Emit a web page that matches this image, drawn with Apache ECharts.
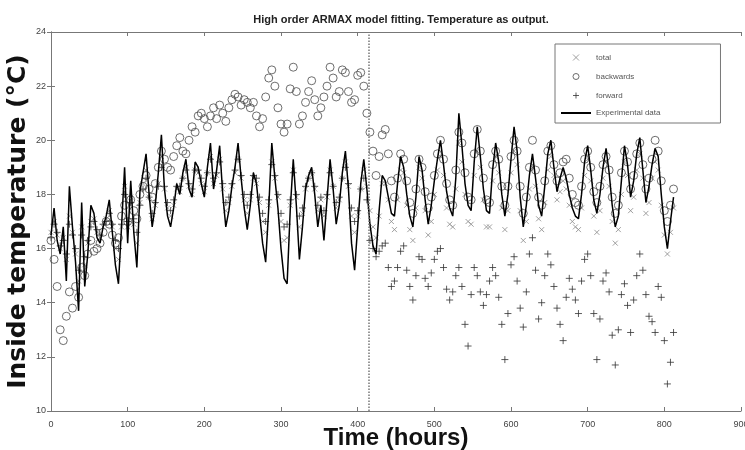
<!DOCTYPE html>
<html>
<head>
<meta charset="utf-8">
<title>High order ARMAX model fitting</title>
<script src="https://cdn.jsdelivr.net/npm/echarts@6/dist/echarts.min.js"></script>
<style>
  html, body { margin: 0; padding: 0; background: #fff; }
  #chart { width: 745px; height: 450px; }
</style>
</head>
<body>
<div id="chart"></div>
<script>
// time stamps (hours), one row per day
const hours = [
  0, 4, 8, 12, 16, 20,
  24, 28, 32, 36, 40, 44,
  48, 52, 56, 60, 64, 68,
  72, 76, 80, 84, 88, 92,
  96, 100, 104, 108, 112, 116,
  120, 124, 128, 132, 136, 140,
  144, 148, 152, 156, 160, 164,
  168, 172, 176, 180, 184, 188,
  192, 196, 200, 204, 208, 212,
  216, 220, 224, 228, 232, 236,
  240, 244, 248, 252, 256, 260,
  264, 268, 272, 276, 280, 284,
  288, 292, 296, 300, 304, 308,
  312, 316, 320, 324, 328, 332,
  336, 340, 344, 348, 352, 356,
  360, 364, 368, 372, 376, 380,
  384, 388, 392, 396, 400, 404,
  408, 412, 416, 420, 424, 428,
  432, 436, 440, 444, 448, 452,
  456, 460, 464, 468, 472, 476,
  480, 484, 488, 492, 496, 500,
  504, 508, 512, 516, 520, 524,
  528, 532, 536, 540, 544, 548,
  552, 556, 560, 564, 568, 572,
  576, 580, 584, 588, 592, 596,
  600, 604, 608, 612, 616, 620,
  624, 628, 632, 636, 640, 644,
  648, 652, 656, 660, 664, 668,
  672, 676, 680, 684, 688, 692,
  696, 700, 704, 708, 712, 716,
  720, 724, 728, 732, 736, 740,
  744, 748, 752, 756, 760, 764,
  768, 772, 776, 780, 784, 788,
  792, 796, 800, 804, 808, 812
]

const experimental = [
  16.5, 17.5, 16.3, 15.8, 16.8, 14.8,
  18.3, 16.8, 15.5, 13.7, 17.7, 14.6,
  15.8, 17.6, 17.3, 16.4, 16.2, 16.8,
  17.2, 17.8, 16.6, 15.4, 14.7, 16.8,
  19.0, 16.2, 18.5, 16.6, 15.3, 18.1,
  18.8, 19.5, 18.0, 16.8, 17.6, 18.8,
  20.2, 18.2, 17.2, 16.8, 17.5, 18.4,
  18.0, 18.8, 19.3, 18.2, 17.9, 19.2,
  19.0, 18.4, 17.9, 19.0, 19.9, 18.2,
  18.9, 19.8, 18.0, 16.8, 17.4, 18.3,
  19.0, 19.9, 18.6, 17.5, 16.7, 17.6,
  18.8, 18.4, 17.3, 16.2, 15.5, 17.5,
  19.9, 18.6, 17.5, 16.0, 14.9, 14.7,
  17.4, 19.3, 17.6, 15.6, 16.8, 18.2,
  18.7, 19.0, 18.0, 16.8, 17.6, 16.3,
  17.8, 19.3, 18.2, 16.9, 17.6, 18.8,
  19.6, 18.2, 16.2, 15.2, 16.8, 18.4,
  19.3, 18.2, 16.9, 16.1, 15.8, 17.4,
  18.7, 18.5, 17.9, 17.3, 17.2, 18.4,
  19.4, 19.0, 18.0, 17.2, 16.8, 17.9,
  19.4, 18.9, 17.8, 16.9, 17.6, 18.5,
  19.3, 20.0, 19.1, 18.1, 17.5, 17.2,
  18.6, 21.0, 19.8, 18.4, 17.6, 17.4,
  19.2, 20.5, 19.4, 18.2, 17.4, 17.3,
  18.9, 19.9, 19.2, 18.0, 17.2, 18.0,
  19.3, 20.5, 19.6, 17.9, 16.8, 17.6,
  18.7, 19.5, 18.6, 17.6, 17.2, 18.3,
  19.5, 20.0, 19.0, 18.1, 18.6, 19.0,
  18.6, 18.0, 17.5, 17.2, 17.1, 18.0,
  19.2, 19.8, 18.9, 17.8, 17.3, 18.0,
  19.0, 19.7, 18.8, 17.6, 16.8, 17.2,
  18.5, 19.8, 19.1, 17.9, 18.5, 19.5,
  20.1, 18.9, 17.7, 18.3, 19.1, 19.7,
  19.4, 18.0, 16.8, 16.0, 17.0, 17.9
]

const total = [
  16.6, 17.0, 16.5, 16.0, 16.4, 15.6,
  17.2, 16.6, 15.8, 14.8, 16.8, 15.4,
  16.2, 17.0, 17.1, 16.6, 16.4, 16.8,
  17.1, 17.4, 16.8, 16.0, 15.6, 16.8,
  18.3, 16.8, 17.9, 16.9, 16.2, 17.7,
  18.4, 18.9, 17.9, 17.1, 17.6, 18.4,
  19.4, 18.2, 17.5, 17.2, 17.6, 18.2,
  18.1, 18.6, 19.0, 18.3, 18.0, 18.9,
  18.8, 18.4, 18.1, 18.8, 19.4, 18.4,
  18.7, 19.3, 18.2, 17.4, 17.7, 18.3,
  18.8, 19.3, 18.6, 17.8, 17.3, 17.8,
  18.6, 18.4, 17.7, 17.0, 16.6, 17.6,
  19.2, 18.6, 17.9, 17.0, 16.3, 16.4,
  17.6, 18.9, 17.9, 16.8, 17.3, 18.2,
  18.6, 18.8, 18.2, 17.4, 17.8, 17.2,
  17.9, 18.9, 18.3, 17.5, 17.8, 18.6,
  19.2, 18.3, 17.2, 16.6, 17.2, 18.2,
  18.9, 18.3, 17.4, 16.8, 16.4, 17.2,
  18.4, 18.4, 17.8, 17.0, 16.7, 17.8,
  18.9, 18.8, 17.6, 16.7, 16.3, 17.5,
  19.0, 18.6, 17.4, 16.5, 17.0, 18.0,
  18.9, 19.4, 18.7, 17.5, 16.9, 16.8,
  18.2, 19.9, 19.2, 18.0, 17.0, 16.9,
  18.7, 19.6, 19.0, 17.8, 16.8, 16.8,
  18.5, 19.4, 18.8, 17.5, 16.7, 17.4,
  18.8, 19.6, 19.1, 17.4, 16.3, 17.0,
  18.2, 19.0, 18.3, 17.1, 16.7, 17.7,
  18.9, 19.4, 18.7, 17.8, 18.1, 18.5,
  18.2, 17.6, 17.0, 16.8, 16.7, 17.5,
  18.7, 19.3, 18.5, 17.2, 16.6, 17.4,
  18.6, 19.2, 18.3, 17.0, 16.2, 16.7,
  18.0, 19.2, 18.7, 17.4, 17.9, 18.9,
  19.5, 18.6, 17.3, 17.7, 18.6, 19.2,
  18.9, 17.6, 16.5, 15.8, 16.6, 17.5
]

const backwards = [
  16.3, 15.6, 14.6, 13.0, 12.6, 13.5,
  14.4, 13.8, 14.6, 14.2, 15.3, 15.0,
  15.8, 16.3, 15.9, 16.0, 16.2, 16.6,
  17.0, 16.9, 16.5, 16.2, 16.4, 17.2,
  17.6, 17.0, 17.8, 17.4, 17.1, 18.0,
  18.3, 18.7, 18.2, 17.9, 18.4, 19.0,
  19.6, 19.3, 19.0, 18.9, 19.4, 19.8,
  20.1, 19.6, 19.5, 20.0, 20.5, 20.3,
  20.9, 21.0, 20.8, 20.5, 20.9, 21.2,
  20.8, 21.3, 21.0, 20.7, 21.2, 21.5,
  21.7, 21.6, 21.3, 21.5, 21.4, 21.2,
  21.4, 20.9, 20.5, 20.8, 21.6, 22.3,
  22.6, 22.0, 21.2, 20.6, 20.3, 20.6,
  21.9, 22.7, 21.8, 20.6, 20.9, 21.4,
  21.8, 22.2, 21.5, 20.9, 21.2, 21.6,
  22.0, 22.7, 22.3, 21.6, 21.8, 22.6,
  22.5, 21.8, 21.4, 21.5, 22.4, 22.5,
  22.0, 21.0, 20.3, 19.6, 18.7, 19.4,
  20.2, 20.4, 19.5, 18.5, 17.9, 18.6,
  19.5, 19.3, 18.5, 17.7, 17.3, 18.2,
  19.3, 19.0, 18.1, 17.5, 17.9, 18.7,
  19.5, 20.0, 19.3, 18.4, 17.8, 17.6,
  18.9, 20.3, 19.9, 18.8, 17.9, 17.8,
  19.5, 20.4, 19.6, 18.6, 17.8, 17.7,
  19.1, 19.6, 19.3, 18.3, 17.6, 18.3,
  19.4, 20.0, 19.6, 18.3, 17.3, 17.9,
  19.0, 20.0, 18.9, 17.9, 17.6, 18.5,
  19.6, 19.8, 19.1, 18.5, 18.8, 19.2,
  19.3, 18.6, 18.0, 17.7, 17.6, 18.3,
  19.3, 19.6, 19.0, 18.1, 17.7, 18.3,
  19.1, 19.4, 18.9, 17.9, 17.3, 17.6,
  18.8, 19.6, 19.2, 18.2, 18.7, 19.5,
  19.9, 19.1, 18.2, 18.6, 19.3, 20.0,
  19.6, 18.5, 17.4, 17.0, 17.6, 18.2
]

const forward = [
  16.4, 16.9, 16.6, 16.1, 16.3, 15.8,
  16.9, 16.5, 16.0, 15.2, 16.5, 15.7,
  16.3, 16.8, 17.0, 16.7, 16.5, 16.9,
  17.0, 17.3, 16.9, 16.3, 16.0, 16.9,
  18.0, 17.0, 17.7, 17.1, 16.6, 17.6,
  18.2, 18.6, 17.9, 17.3, 17.7, 18.3,
  19.0, 18.3, 17.7, 17.4, 17.8, 18.3,
  18.3, 18.6, 18.9, 18.4, 18.2, 18.9,
  18.9, 18.6, 18.3, 18.8, 19.3, 18.6,
  18.8, 19.2, 18.4, 17.7, 17.9, 18.4,
  18.9, 19.3, 18.7, 18.0, 17.6, 18.0,
  18.7, 18.6, 17.9, 17.3, 17.0, 17.8,
  19.1, 18.7, 18.0, 17.3, 16.8, 16.9,
  17.8, 18.8, 18.0, 17.2, 17.5, 18.3,
  18.6, 18.8, 18.3, 17.6, 17.9, 17.4,
  18.0, 18.8, 18.3, 17.7, 17.9, 18.6,
  19.0, 18.4, 17.5, 17.0, 17.4, 18.2,
  18.6, 17.8, 16.3, 16.0, 15.7, 15.9,
  16.1, 16.2, 15.3, 14.6, 14.8, 15.3,
  15.9, 16.1, 15.2, 14.6, 14.1, 15.0,
  15.7, 15.6, 14.9, 14.6, 15.1, 15.6,
  15.9, 16.0, 15.3, 14.5, 14.1, 14.4,
  15.0, 15.3, 14.6, 13.2, 12.4, 14.3,
  15.3, 15.0, 14.4, 13.9, 14.3, 14.8,
  15.3, 15.0, 14.2, 13.2, 11.9, 13.6,
  15.4, 15.7, 14.8, 13.8, 13.1, 14.4,
  15.8, 16.4, 15.2, 13.4, 14.0, 15.0,
  15.8, 15.4, 14.6, 13.8, 13.2, 12.6,
  14.2, 14.9, 14.5, 14.1, 13.6, 14.8,
  15.6, 15.8, 15.0, 13.6, 11.9, 13.4,
  14.8, 15.1, 14.4, 12.8, 11.7, 13.0,
  14.3, 14.7, 13.9, 12.9, 14.1, 15.0,
  15.8, 15.2, 14.3, 13.5, 13.3, 12.9,
  14.6, 14.2, 12.6, 11.0, 11.8, 12.9
]

const xTicks = [0, 100, 200, 300, 400, 500, 600, 700, 800, 900]
const yTicks = [10, 12, 14, 16, 18, 20, 22, 24]
const splitHour = 415

const pair = (vals) => hours.map((h, i) => [h, vals[i]])

const PLUS = 'path://M5,0L5,10M0,5L10,5'
const CROSS = 'path://M0,0L10,10M10,0L0,10'

const tickLabel = { fontSize: 9, color: '#444', fontFamily: 'Liberation Sans, Arial, sans-serif' }

const xBase = {
  type: 'value',
  min: xTicks[0],
  max: xTicks[xTicks.length - 1],
  interval: xTicks[1] - xTicks[0],
  splitLine: { show: false },
  axisLine: { show: true, lineStyle: { color: '#777', width: 1 } },
  axisTick: { show: true, inside: true, length: 4, lineStyle: { color: '#777' } },
}
const yBase = {
  type: 'value',
  min: yTicks[0],
  max: yTicks[yTicks.length - 1],
  interval: yTicks[1] - yTicks[0],
  splitLine: { show: false },
  axisLine: { show: true, lineStyle: { color: '#777', width: 1 } },
  axisTick: { show: true, inside: true, length: 4, lineStyle: { color: '#777' } },
}

const chart = echarts.init(document.getElementById('chart'), null, { renderer: 'canvas' })
chart.setOption({
  backgroundColor: '#fff',
  animation: false,
  title: {
    text: 'High order ARMAX model fitting. Temperature as output.',
    left: 396,
    top: 9,
    textAlign: 'center',
    textStyle: { fontSize: 11, fontWeight: 'bold', color: '#222', fontFamily: 'Liberation Sans, Arial, sans-serif' },
  },
  grid: { left: 51, right: 4, top: 32, bottom: 39, outerBoundsMode: 'none' },
  legend: {
    orient: 'vertical',
    left: 555,
    top: 44,
    padding: [8, 60, 6, 5],
    itemGap: 8,
    itemWidth: 30,
    itemHeight: 6,
    backgroundColor: '#fff',
    borderColor: '#777',
    borderWidth: 1,
    borderRadius: 0,
    itemStyle: { borderWidth: 1 },
    textStyle: { fontSize: 8, color: '#555', fontFamily: 'Liberation Sans, Arial, sans-serif' },
    data: [
      'total',
      'backwards',
      'forward',
      { name: 'Experimental data', itemStyle: { color: 'transparent', opacity: 0 } },
    ],
  },
  xAxis: [
    {
      ...xBase,
      position: 'bottom',
      name: 'Time (hours)',
      nameLocation: 'middle',
      nameGap: 15,
      nameMoveOverlap: false,
      nameTextStyle: { fontSize: 24, fontWeight: 'bold', color: '#111', fontFamily: 'Liberation Sans Narrow, Liberation Sans, Arial, sans-serif', verticalAlign: 'top' },
      axisLabel: { ...tickLabel, margin: 9 },
    },
    { ...xBase, position: 'top', axisLabel: { show: false } },
  ],
  yAxis: [
    {
      ...yBase,
      position: 'left',
      name: 'Inside temperature (\u00B0C)',
      nameLocation: 'middle',
      nameGap: 20,
      nameMoveOverlap: false,
      nameTextStyle: { fontSize: 25, fontWeight: 'bold', color: '#111', fontFamily: 'DejaVu Sans, sans-serif' },
      axisLabel: { ...tickLabel, margin: 5 },
    },
    { ...yBase, position: 'right', axisLabel: { show: false } },
  ],
  series: [
    {
      name: 'total',
      type: 'scatter',
      symbol: CROSS,
      symbolSize: 5,
      symbolKeepAspect: true,
      itemStyle: { color: 'none', borderColor: '#8a8a8a', borderWidth: 1 },
      data: pair(total),
    },
    {
      name: 'backwards',
      type: 'scatter',
      symbol: 'circle',
      symbolSize: 8,
      itemStyle: { color: 'none', borderColor: '#4a4a4a', borderWidth: 1 },
      data: pair(backwards),
    },
    {
      name: 'forward',
      type: 'scatter',
      symbol: PLUS,
      symbolSize: 7,
      symbolKeepAspect: true,
      itemStyle: { color: 'none', borderColor: '#333', borderWidth: 1 },
      data: pair(forward),
    },
    {
      name: 'Experimental data',
      type: 'line',
      symbol: 'none',
      lineStyle: { color: '#000', width: 1.5 },
      itemStyle: { color: '#000' },
      data: pair(experimental),
      markLine: {
        silent: true,
        symbol: ['none', 'none'],
        label: { show: false },
        lineStyle: { type: 'dotted', color: '#777', width: 1.5 },
        data: [{ xAxis: splitHour }],
      },
    },
  ],
})
</script>
</body>
</html>
